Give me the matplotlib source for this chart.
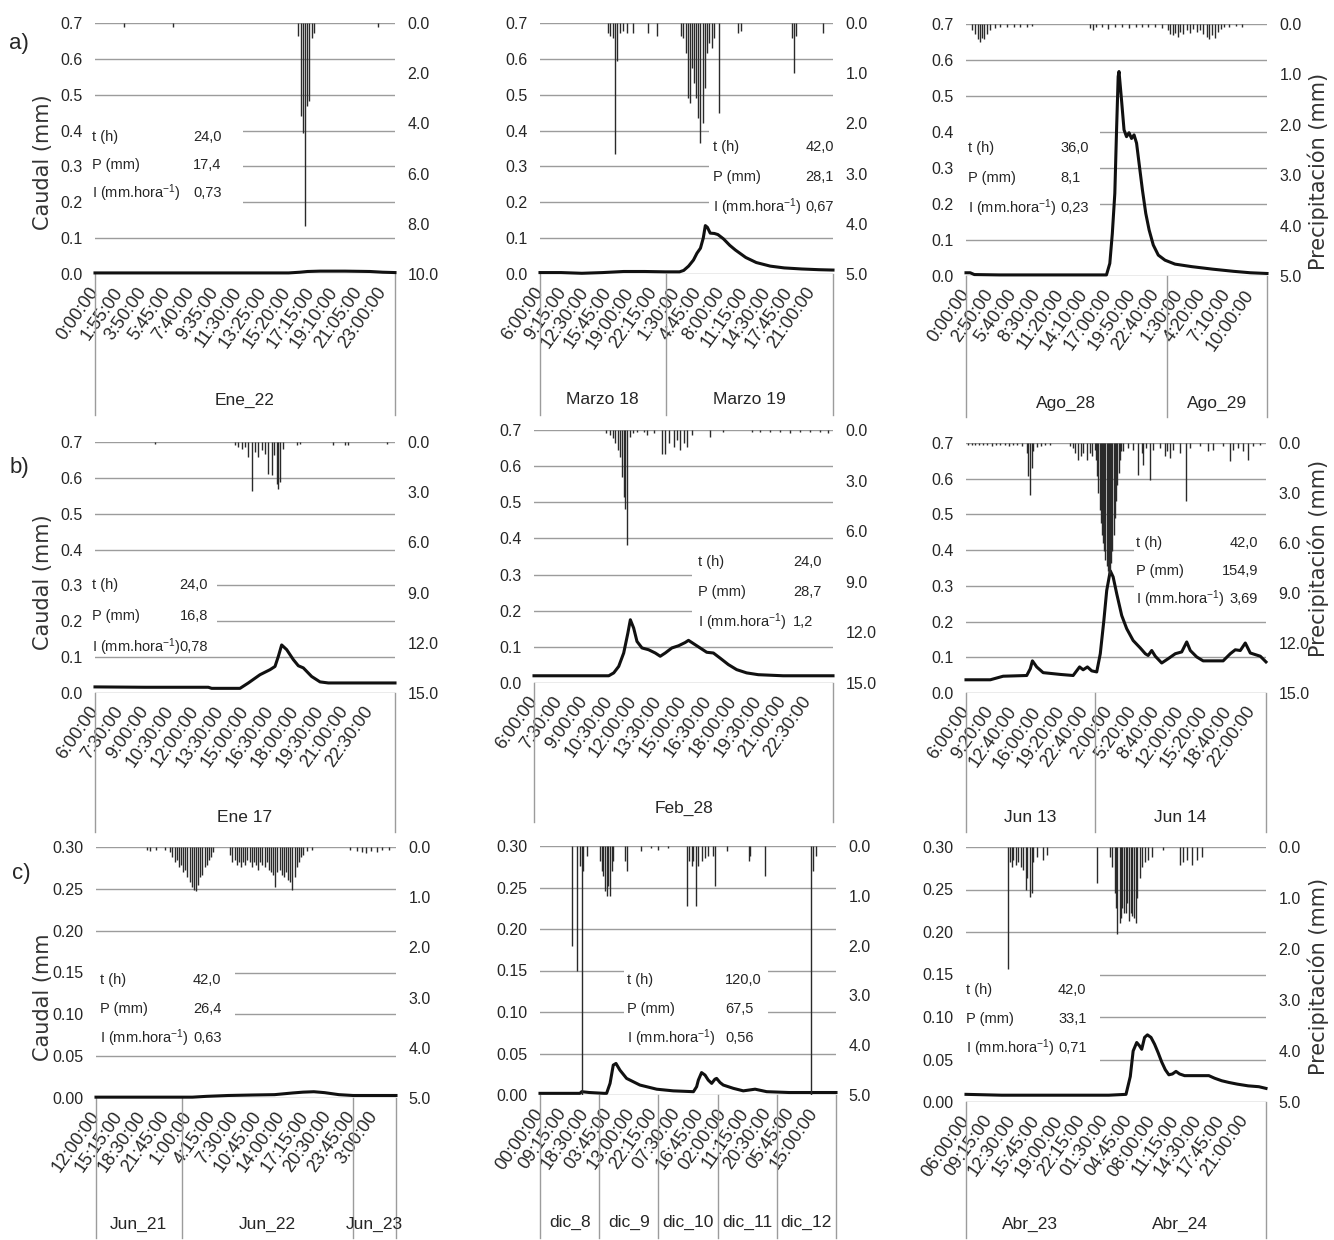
import numpy as np
import matplotlib
matplotlib.use("Agg")
import matplotlib.pyplot as plt
import matplotlib.transforms as mtransforms
from matplotlib.patches import Rectangle

plt.rcParams['font.family'] = ['Liberation Sans Narrow', 'Liberation Sans', 'DejaVu Sans']
plt.rcParams['mathtext.default'] = 'regular'

# ---------------------------------------------------------------- data
# time axis in hours from the first label of each event

# a) Ene_22
FLOW_A1_T = [0, 2, 4, 6, 8, 10, 12, 14, 15.5, 16.4, 17.0, 18, 20, 22, 23, 24]
FLOW_A1_Q = [0.003, 0.003, 0.003, 0.003, 0.003, 0.003, 0.003, 0.003, 0.003, 0.005,
             0.007, 0.008, 0.008, 0.007, 0.005, 0.004]
RAIN_A1_T = [2.3, 6.2, 16.25, 16.45, 16.6, 16.8, 16.95, 17.15, 17.35, 17.55, 22.6]
RAIN_A1_P = [0.15, 0.15, 0.5, 3.7, 4.4, 8.1, 3.3, 3.1, 0.6, 0.4, 0.15]
TICKS_A1 = ["0:00:00", "1:55:00", "3:50:00", "5:45:00", "7:40:00", "9:35:00", "11:30:00",
            "13:25:00", "15:20:00", "17:15:00", "19:10:00", "21:05:00", "23:00:00"]
DAYS_A1 = ["Ene_22"]
DAY_EDGES_A1 = [0, 24]
STATS_A1 = ["24,0", "17,4", "0,73"]

# a) Marzo 18-19
FLOW_A2_T = [0, 3, 6, 9, 12, 15, 18, 20, 20.6, 21.3, 22.0, 22.5, 23.0, 23.4, 23.7, 24.0,
             24.4, 25.0, 25.5, 26.3, 27.2, 28.0, 29.5, 31.0, 33.0, 35.0, 37.5, 40.0, 42.0]
FLOW_A2_Q = [0.004, 0.004, 0.002, 0.004, 0.007, 0.007, 0.006, 0.006, 0.010, 0.022, 0.039,
             0.058, 0.072, 0.100, 0.135, 0.130, 0.114, 0.113, 0.110, 0.098, 0.080, 0.067,
             0.046, 0.032, 0.022, 0.017, 0.014, 0.012, 0.011]
RAIN_A2_T = [9.8, 10.1, 10.5, 10.8, 11.1, 11.5, 11.9, 12.4, 13.3, 15.5, 16.7, 20.2, 20.5,
             20.9, 21.2, 21.5, 21.8, 22.1, 22.4, 22.7, 23.0, 23.3, 23.6, 23.9, 24.2, 24.6,
             25.0, 25.7, 28.4, 28.8, 36.1, 36.4, 36.7, 40.6]
RAIN_A2_P = [0.2, 0.25, 0.3, 2.6, 0.75, 0.2, 0.15, 0.2, 0.2, 0.2, 0.25, 0.25, 0.3, 0.6, 1.5,
             1.6, 0.9, 1.2, 1.5, 1.9, 2.4, 2.0, 1.3, 0.6, 0.4, 0.5, 0.3, 1.8, 0.2, 0.15, 0.3,
             1.0, 0.25, 0.2]
TICKS_A2 = ["6:00:00", "9:15:00", "12:30:00", "15:45:00", "19:00:00", "22:15:00", "1:30:00",
            "4:45:00", "8:00:00", "11:15:00", "14:30:00", "17:45:00", "21:00:00"]
DAYS_A2 = ["Marzo 18", "Marzo 19"]
DAY_EDGES_A2 = [0, 18, 42]
STATS_A2 = ["42,0", "28,1", "0,67"]

# a) Ago_28-29
FLOW_A3_T = [0, 0.5, 1.0, 4, 8, 12, 16.8, 17.2, 17.5, 17.8, 18.0, 18.2, 18.3, 18.6, 18.9,
             19.2, 19.5, 19.8, 20.1, 20.4, 20.7, 21.1, 21.5, 21.9, 22.4, 23.0, 23.8, 25.0,
             27.0, 29.5, 32.0, 34.0, 36.0]
FLOW_A3_Q = [0.009, 0.009, 0.004, 0.003, 0.003, 0.003, 0.003, 0.035, 0.118, 0.230, 0.400,
             0.554, 0.568, 0.489, 0.406, 0.387, 0.398, 0.382, 0.392, 0.369, 0.313, 0.239,
             0.174, 0.128, 0.086, 0.058, 0.044, 0.033, 0.026, 0.019, 0.013, 0.009, 0.007]
RAIN_A3_T = [0.7, 1.1, 1.4, 1.7, 1.9, 2.2, 2.5, 2.9, 3.5, 4.1, 4.9, 5.7, 6.5, 7.3, 7.9,
             14.8, 15.2, 15.6, 16.3, 17.0, 17.8, 18.6, 19.5, 20.3, 21.0, 21.8, 22.6, 23.4,
             24.1, 24.4, 24.7, 25.0, 25.3, 25.6, 26.0, 26.4, 26.8, 27.2, 27.6, 28.0, 28.4,
             28.8, 29.1, 29.4, 29.8, 30.1, 30.5, 30.9, 31.5, 32.3, 33.0]
RAIN_A3_P = [0.12, 0.2, 0.3, 0.35, 0.28, 0.3, 0.2, 0.12, 0.08, 0.06, 0.05, 0.05, 0.05, 0.05,
             0.04, 0.08, 0.12, 0.06, 0.05, 0.1, 0.06, 0.05, 0.08, 0.05, 0.06, 0.05, 0.06,
             0.08, 0.12, 0.2, 0.22, 0.18, 0.25, 0.15, 0.2, 0.12, 0.18, 0.1, 0.15, 0.12, 0.2,
             0.25, 0.3, 0.22, 0.28, 0.15, 0.1, 0.06, 0.05, 0.04, 0.05]
TICKS_A3 = ["0:00:00", "2:50:00", "5:40:00", "8:30:00", "11:20:00", "14:10:00", "17:00:00",
            "19:50:00", "22:40:00", "1:30:00", "4:20:00", "7:10:00", "10:00:00"]
DAYS_A3 = ["Ago_28", "Ago_29"]
DAY_EDGES_A3 = [0, 24, 36]
STATS_A3 = ["36,0", "8,1", "0,23"]

# b) Ene 17
FLOW_B1_T = [0, 3, 6.8, 7.0, 8.7, 9.2, 9.9, 10.5, 10.8, 11.0, 11.2, 11.5, 11.9, 12.2, 12.5,
             13.0, 13.5, 14.0, 16.0, 18.0]
FLOW_B1_Q = [0.017, 0.016, 0.016, 0.013, 0.013, 0.028, 0.051, 0.065, 0.074, 0.102, 0.134,
             0.121, 0.093, 0.076, 0.070, 0.046, 0.031, 0.028, 0.028, 0.028]
RAIN_B1_T = [3.6, 8.4, 8.6, 8.8, 9.0, 9.2, 9.4, 9.6, 9.8, 10.0, 10.2, 10.4, 10.6, 10.75,
             10.9, 11.0, 11.1, 11.3, 12.1, 12.3, 14.3, 15.0, 15.2, 17.5]
RAIN_B1_P = [0.1, 0.2, 0.3, 0.4, 0.3, 0.9, 2.9, 0.6, 0.9, 0.5, 0.7, 1.9, 2.0, 0.8, 2.5, 2.8,
             2.4, 0.4, 0.15, 0.1, 0.15, 0.2, 0.15, 0.1]
TICKS_B1 = ["6:00:00", "7:30:00", "9:00:00", "10:30:00", "12:00:00", "13:30:00", "15:00:00",
            "16:30:00", "18:00:00", "19:30:00", "21:00:00", "22:30:00"]
DAYS_B1 = ["Ene 17"]
DAY_EDGES_B1 = [0, 18]
STATS_B1 = ["24,0", "16,8", "0,78"]

# b) Feb_28
FLOW_B2_T = [0, 4.5, 4.8, 5.1, 5.4, 5.65, 5.8, 6.0, 6.2, 6.5, 6.9, 7.3, 7.6, 7.9, 8.3, 8.7,
             9.1, 9.3, 9.6, 10.0, 10.4, 10.8, 11.2, 11.7, 12.2, 12.8, 13.5, 15.0, 18.0]
FLOW_B2_Q = [0.020, 0.020, 0.028, 0.046, 0.083, 0.138, 0.175, 0.152, 0.115, 0.097, 0.092,
             0.083, 0.074, 0.083, 0.097, 0.103, 0.112, 0.118, 0.109, 0.097, 0.085, 0.083,
             0.069, 0.051, 0.037, 0.028, 0.023, 0.020, 0.020]
RAIN_B2_T = [4.35, 4.55, 4.75, 4.9, 5.05, 5.2, 5.3, 5.4, 5.5, 5.62, 5.75, 5.95, 6.2, 6.6,
             6.8, 7.2, 7.7, 7.9, 8.1, 8.4, 8.6, 8.8, 9.0, 9.2, 9.5, 10.6, 11.4, 13.1, 13.6,
             14.2, 14.8, 15.4, 16.0, 16.6, 17.2, 17.7]
RAIN_B2_P = [0.15, 0.3, 0.5, 0.8, 1.2, 1.6, 2.8, 4.0, 4.7, 6.8, 0.4, 0.2, 0.1, 0.1, 0.3,
             0.2, 1.4, 1.4, 0.8, 1.0, 0.6, 1.2, 0.8, 1.0, 0.3, 0.4, 0.1, 0.1, 0.1, 0.1, 0.1,
             0.15, 0.1, 0.1, 0.1, 0.15]
TICKS_B2 = TICKS_B1
DAYS_B2 = ["Feb_28"]
DAY_EDGES_B2 = [0, 18]
STATS_B2 = ["24,0", "28,7", "1,2"]

# b) Jun 13-14
FLOW_B3_T = [0, 3.4, 5.2, 8.5, 9.0, 9.3, 9.9, 10.8, 13.2, 15.0, 15.9, 16.4, 17.0, 17.6,
             18.3, 18.8, 19.3, 19.7, 20.2, 20.6, 21.1, 21.8, 22.5, 23.4, 24.4, 25.1, 25.5,
             26.0, 26.5, 27.4, 28.3, 29.3, 30.2, 30.9, 31.4, 32.3, 33.2, 36.0, 37.0, 37.7,
             38.4, 39.1, 39.8, 41.2, 42.0]
FLOW_B3_Q = [0.037, 0.037, 0.047, 0.049, 0.068, 0.090, 0.073, 0.057, 0.052, 0.049, 0.073,
             0.065, 0.073, 0.062, 0.059, 0.110, 0.203, 0.287, 0.342, 0.325, 0.278, 0.217,
             0.180, 0.147, 0.126, 0.110, 0.105, 0.119, 0.103, 0.084, 0.096, 0.110, 0.115,
             0.143, 0.119, 0.101, 0.090, 0.090, 0.110, 0.121, 0.119, 0.140, 0.112, 0.103,
             0.087]
RAIN_B3_T = [0.3, 0.8, 1.3, 1.8, 2.4, 3.0, 3.6, 4.2, 4.8, 5.4, 6.0, 6.6, 7.2, 7.8, 8.5,
             8.7, 9.0, 9.2, 9.4, 9.9, 10.5, 11.1, 11.7, 14.5, 15.0, 15.3, 15.7, 16.1, 16.4,
             16.9, 17.4, 17.7, 18.05,
             18.2, 18.35, 18.5, 18.7, 18.85, 19.0, 19.2, 19.35, 19.5, 19.7, 19.85, 20.0,
             20.2, 20.35, 20.5, 20.7, 20.85, 21.0, 21.2, 21.35, 21.5, 21.7,
             22.0, 22.7, 23.4, 24.1, 24.6, 24.8, 25.2, 25.8, 26.2, 27.2, 27.9, 28.2, 28.6,
             29.0, 30.0, 30.8, 31.4, 32.8, 33.9, 34.6, 36.0, 37.0, 37.4, 38.1, 38.8, 39.5,
             40.2, 41.2]
RAIN_B3_P = [0.15, 0.1, 0.15, 0.1, 0.15, 0.1, 0.2, 0.15, 0.1, 0.15, 0.2, 0.1, 0.15, 0.2,
             0.6, 2.0, 3.1, 1.5, 0.5, 0.25, 0.2, 0.15, 0.1, 0.2, 0.3, 0.6, 1.0, 0.8, 0.6,
             1.0, 0.6, 0.8, 0.4,
             1.0, 2.0, 3.0, 4.0, 4.8, 5.5, 6.0, 6.5, 7.0, 7.4, 7.7, 7.9, 7.8, 7.2, 6.5,
             5.5, 4.5, 3.5, 2.5, 1.8, 1.0, 0.5,
             0.5, 0.3, 0.4, 1.9, 0.6, 1.3, 0.3, 2.2, 0.4, 0.3, 0.8, 0.5, 0.9, 0.4, 0.6,
             3.5, 0.3, 0.2, 0.5, 0.4, 0.2, 1.1, 0.4, 0.3, 0.5, 1.0, 0.2, 0.1]
TICKS_B3 = ["6:00:00", "9:20:00", "12:40:00", "16:00:00", "19:20:00", "22:40:00", "2:00:00",
            "5:20:00", "8:40:00", "12:00:00", "15:20:00", "18:40:00", "22:00:00"]
DAYS_B3 = ["Jun 13", "Jun 14"]
DAY_EDGES_B3 = [0, 18, 42]
STATS_B3 = ["42,0", "154,9", "3,69"]

# c) Jun_21-23
FLOW_C1_T = [0, 5, 10, 13.5, 15.5, 18.5, 22, 25, 27.5, 29, 30.5, 32, 34, 36, 42]
FLOW_C1_Q = [0.001, 0.001, 0.001, 0.001, 0.002, 0.003, 0.0036, 0.004, 0.006, 0.007,
             0.0075, 0.0064, 0.004, 0.003, 0.003]
RAIN_C1_T = [7.2, 7.6, 8.4, 9.6, 10.4, 10.7, 11.0, 11.3, 11.6, 11.9, 12.2, 12.5, 12.8,
             13.1, 13.4, 13.7, 14.0, 14.3, 14.6, 14.9, 15.2, 15.5, 15.8, 16.1, 16.4, 18.8,
             19.1, 19.4, 19.7, 20.0, 20.3, 20.6, 20.9, 21.2, 21.5, 21.8, 22.1, 22.4, 22.7,
             23.0, 23.3, 23.6, 23.9, 24.2, 24.5, 24.8, 25.1, 25.4, 25.7, 26.0, 26.3, 26.6,
             26.9, 27.2, 27.5, 27.8, 28.1, 28.4, 28.7, 29.0, 29.5, 30.2, 35.5, 36.5, 37.2,
             37.8, 38.5, 39.3, 40.0, 41.0]
RAIN_C1_P = [0.05, 0.08, 0.05, 0.05, 0.1, 0.2, 0.3, 0.25, 0.4, 0.35, 0.5, 0.45, 0.6, 0.7,
             0.8, 0.85, 0.88, 0.75, 0.6, 0.55, 0.4, 0.35, 0.25, 0.2, 0.1, 0.15, 0.3, 0.25,
             0.35, 0.3, 0.4, 0.3, 0.35, 0.25, 0.3, 0.4, 0.3, 0.35, 0.45, 0.3, 0.35, 0.4, 0.3,
             0.45, 0.5, 0.55, 0.8, 0.5, 0.45, 0.55, 0.6, 0.5, 0.65, 0.7, 0.85, 0.6, 0.4,
             0.3, 0.2, 0.15, 0.08, 0.05, 0.05, 0.08, 0.1, 0.12, 0.08, 0.1, 0.06, 0.05]
TICKS_C1 = ["12:00:00", "15:15:00", "18:30:00", "21:45:00", "1:00:00", "4:15:00", "7:30:00",
            "10:45:00", "14:00:00", "17:15:00", "20:30:00", "23:45:00", "3:00:00"]
DAYS_C1 = ["Jun_21", "Jun_22", "Jun_23"]
DAY_EDGES_C1 = [0, 12, 36, 42]
STATS_C1 = ["42,0", "26,4", "0,63"]

# c) dic_8-12
FLOW_C2_T = [0, 8, 16.2, 16.9, 20, 26, 27, 28.4, 29.7, 30.8, 32.4, 35.1, 40.5, 47.3, 54,
             62.2, 63.5, 64.2, 65.5, 66.9, 68.2, 69.6, 70.9, 71.6, 73, 74.3, 78.4, 82.4,
             87.2, 91.9, 101, 120]
FLOW_C2_Q = [0.002, 0.002, 0.002, 0.004, 0.003, 0.002, 0.002, 0.014, 0.036, 0.038, 0.030,
             0.020, 0.012, 0.007, 0.005, 0.004, 0.010, 0.018, 0.027, 0.024, 0.018, 0.014,
             0.019, 0.020, 0.015, 0.012, 0.008, 0.005, 0.007, 0.004, 0.003, 0.003]
RAIN_C2_T = [12.8, 14.9, 16.2, 16.9, 17.6, 18.9, 24.3, 25.0, 25.7, 26.4, 27.0, 27.7, 28.4,
             29.0, 29.7, 34.5, 35.1, 41, 45, 48, 52, 59.7, 60.5, 61.5, 62.2, 63.2, 64.2,
             65.5, 66.9, 68.2, 70.3, 70.9, 75.7, 84.6, 85.3, 91.2, 109.7, 110.8, 112]
RAIN_C2_P = [2.0, 2.5, 0.4, 5.0, 0.5, 0.2, 0.3, 0.5, 0.6, 0.9, 1.0, 0.8, 1.0, 0.5, 0.3, 0.3,
             0.5, 0.1, 0.05, 0.08, 0.05, 1.2, 0.3, 0.4, 0.3, 1.2, 0.4, 0.3, 0.25, 0.2, 0.2,
             0.8, 0.1, 0.3, 0.2, 0.6, 5.0, 0.5, 0.2]
TICKS_C2 = ["00:00:00", "09:15:00", "18:30:00", "03:45:00", "13:00:00", "22:15:00",
            "07:30:00", "16:45:00", "02:00:00", "11:15:00", "20:30:00", "05:45:00", "15:00:00"]
DAYS_C2 = ["dic_8", "dic_9", "dic_10", "dic_11", "dic_12"]
DAY_EDGES_C2 = [0, 24, 48, 72, 96, 120]
STATS_C2 = ["120,0", "67,5", "0,56"]

# c) Abr_23-24
FLOW_C3_T = [0, 5, 10, 15, 20, 22.4, 23.0, 23.4, 23.9, 24.3, 24.6, 25.0, 25.4, 25.9, 26.4,
             26.9, 27.4, 27.9, 28.4, 28.9, 29.4, 29.9, 30.6, 32, 34.0, 34.8, 35.8, 36.8,
             38.0, 39.5, 41, 42]
FLOW_C3_Q = [0.009, 0.008, 0.008, 0.008, 0.008, 0.009, 0.030, 0.060, 0.070, 0.066, 0.062,
             0.076, 0.079, 0.076, 0.068, 0.058, 0.047, 0.038, 0.032, 0.033, 0.036, 0.033,
             0.031, 0.031, 0.031, 0.028, 0.025, 0.023, 0.021, 0.019, 0.018, 0.016]
RAIN_C3_T = [5.9, 6.2, 6.4, 6.6, 7.0, 7.3, 7.7, 8.0, 8.35, 8.6, 8.9, 9.2, 9.4, 9.9, 10.8,
             11.3, 18.4, 20.2, 20.5, 20.8, 21.0, 21.2, 21.5, 21.7, 21.9, 22.1, 22.4, 22.6,
             22.8, 23.1, 23.3, 23.5, 23.8, 24.0, 24.3, 24.6, 25.1, 25.5, 26.0, 27.6, 30.0,
             30.4, 30.9, 31.6, 32.3, 33.0]
RAIN_C3_P = [2.4, 0.3, 0.4, 0.25, 0.35, 0.3, 0.4, 0.45, 0.85, 0.6, 0.98, 0.9, 0.3, 0.2,
             0.25, 0.15, 0.7, 0.2, 0.4, 0.9, 1.2, 1.7, 1.5, 1.4, 1.2, 1.3, 1.3, 1.1, 1.45,
             1.3, 1.35, 1.4, 1.5, 1.0, 0.6, 0.4, 0.3, 0.25, 0.2, 0.05, 0.35, 0.3, 0.25, 0.35,
             0.25, 0.2]
TICKS_C3 = ["06:00:00", "09:15:00", "12:30:00", "15:45:00", "19:00:00", "22:15:00",
            "01:30:00", "04:45:00", "08:00:00", "11:15:00", "14:30:00", "17:45:00", "21:00:00"]
DAYS_C3 = ["Abr_23", "Abr_24"]
DAY_EDGES_C3 = [0, 18, 42]
STATS_C3 = ["42,0", "33,1", "0,71"]

STAT_LABELS = ["t (h)", "P (mm)", r"I (mm.hora$^{-1}$)"]

# ---------------------------------------------------------------- style
W, H = 1334, 1240
TEXT = "#262626"
GRID = "#9c9c9c"
LINE = "#111111"
RAIN = "#2a2a2a"
FS_XTICK = 13
FS_YTICK = 11.5
FS_STATS = 10.5
FS_DAYS = 12.5


def tick_hours(labels, start):
    """Clock labels -> hours elapsed since the first label."""
    out, day, prev = [], 0, None
    for lab in labels:
        h, m, _ = (int(v) for v in lab.split(":"))
        clock = h + m / 60.0
        if prev is not None and clock < prev:
            day += 1
        prev = clock
        out.append(day * 24 + clock - start)
    return out


# panel layout: pixel boxes and text placement
PANELS = [
    dict(box=(95, 23, 395, 274), flow=(FLOW_A1_T, FLOW_A1_Q), rain=(RAIN_A1_T, RAIN_A1_P),
         qmax=0.7, qstep=0.1, qfmt="%.1f", pmax=10, pstep=2, ticks=TICKS_A1, start=0,
         days=DAYS_A1, edges=DAY_EDGES_A1, inner=True, sep_bottom=415, day_y=400,
         stats=STATS_A1, spos=(92, 193, "left", 137, 28), sbox=(93, 123, 243, 212)),
    dict(box=(540, 23, 833, 274), flow=(FLOW_A2_T, FLOW_A2_Q), rain=(RAIN_A2_T, RAIN_A2_P),
         qmax=0.7, qstep=0.1, qfmt="%.1f", pmax=5, pstep=1, ticks=TICKS_A2, start=6,
         days=DAYS_A2, edges=DAY_EDGES_A2, inner=True, sep_bottom=415, day_y=400,
         stats=STATS_A2, spos=(713, 834, "right", 147, 30), sbox=(709, 124, 836, 220)),
    dict(box=(966, 24, 1267, 276), flow=(FLOW_A3_T, FLOW_A3_Q), rain=(RAIN_A3_T, RAIN_A3_P),
         qmax=0.7, qstep=0.1, qfmt="%.1f", pmax=5, pstep=1, ticks=TICKS_A3, start=0,
         days=DAYS_A3, edges=DAY_EDGES_A3, inner=True, sep_bottom=417, day_y=403,
         stats=STATS_A3, spos=(968, 1060, "left", 148, 30), sbox=(966, 126, 1100, 215)),
    dict(box=(95, 442, 395, 693), flow=(FLOW_B1_T, FLOW_B1_Q), rain=(RAIN_B1_T, RAIN_B1_P),
         qmax=0.7, qstep=0.1, qfmt="%.1f", pmax=15, pstep=3, ticks=TICKS_B1, start=6,
         days=DAYS_B1, edges=DAY_EDGES_B1, inner=True, sep_bottom=832, day_y=818,
         stats=STATS_B1, spos=(92, 208, "right", 585, 31), sbox=(93, 568, 217, 650)),
    dict(box=(534, 430, 833, 683), flow=(FLOW_B2_T, FLOW_B2_Q), rain=(RAIN_B2_T, RAIN_B2_P),
         qmax=0.7, qstep=0.1, qfmt="%.1f", pmax=15, pstep=3, ticks=TICKS_B2, start=6,
         days=DAYS_B2, edges=DAY_EDGES_B2, inner=True, sep_bottom=822, day_y=808,
         stats=STATS_B2, spos=(698, 793, "left", 562, 30), sbox=(692, 548, 835, 633)),
    dict(box=(966, 443, 1266, 693), flow=(FLOW_B3_T, FLOW_B3_Q), rain=(RAIN_B3_T, RAIN_B3_P),
         qmax=0.7, qstep=0.1, qfmt="%.1f", pmax=15, pstep=3, ticks=TICKS_B3, start=6,
         days=DAYS_B3, edges=DAY_EDGES_B3, inner=True, sep_bottom=832, day_y=818,
         stats=STATS_B3, spos=(1136, 1258, "right", 543, 28), sbox=(1134, 530, 1268, 610)),
    dict(box=(96, 847, 396, 1098), flow=(FLOW_C1_T, FLOW_C1_Q), rain=(RAIN_C1_T, RAIN_C1_P),
         qmax=0.30, qstep=0.05, qfmt="%.2f", pmax=5, pstep=1, ticks=TICKS_C1, start=12,
         days=DAYS_C1, edges=DAY_EDGES_C1, inner=True, sep_bottom=1238, day_y=1224,
         stats=STATS_C1, spos=(100, 193, "left", 980, 29), sbox=(96, 962, 235, 1050)),
    dict(box=(540, 846, 836, 1095), flow=(FLOW_C2_T, FLOW_C2_Q), rain=(RAIN_C2_T, RAIN_C2_P),
         qmax=0.30, qstep=0.05, qfmt="%.2f", pmax=5, pstep=1, ticks=TICKS_C2, start=0,
         days=DAYS_C2, edges=DAY_EDGES_C2, inner=True, sep_bottom=1238, day_y=1222,
         stats=STATS_C2, spos=(627, 725, "left", 980, 29), sbox=(624, 962, 768, 1050)),
    dict(box=(966, 847, 1266, 1102), flow=(FLOW_C3_T, FLOW_C3_Q), rain=(RAIN_C3_T, RAIN_C3_P),
         qmax=0.30, qstep=0.05, qfmt="%.2f", pmax=5, pstep=1, ticks=TICKS_C3, start=6,
         days=DAYS_C3, edges=DAY_EDGES_C3, inner=False, sep_bottom=1238, day_y=1224,
         stats=STATS_C3, spos=(966, 1058, "left", 990, 29), sbox=(964, 970, 1100, 1064)),
]

fig = plt.figure(figsize=(W / 100, H / 100), dpi=100)
fig.patch.set_facecolor("white")


def draw_panel(p):
    l, t, r, b = p["box"]
    ax = fig.add_axes([l / W, 1 - b / H, (r - l) / W, (b - t) / H])

    def fx(px):
        return (px - l) / (r - l)

    def fy(py):
        return (b - py) / (b - t)

    span = p["edges"][-1]
    ax.set_xlim(0, span)
    ax.set_ylim(0, p["qmax"])
    for s in ax.spines.values():
        s.set_visible(False)

    qticks = np.round(np.arange(0, p["qmax"] + 1e-9, p["qstep"]), 4)
    for v in qticks:
        ax.axhline(v, color=GRID, lw=1.0, zorder=0.5)
    ax.set_yticks(qticks)
    ax.set_yticklabels([p["qfmt"] % v for v in qticks])
    ax.tick_params(axis="y", length=0, pad=9, labelsize=FS_YTICK, labelcolor=TEXT)

    pos = tick_hours(p["ticks"], p["start"])
    ax.set_xticks(pos)
    ax.set_xticklabels(p["ticks"], rotation=55, ha="right", va="center",
                       rotation_mode="anchor")
    ax.tick_params(axis="x", length=0, pad=11, labelsize=FS_XTICK, labelcolor=TEXT)

    # white panel behind the event summary
    bl, bt, br, bb = p["sbox"]
    ax.add_patch(Rectangle((fx(bl), fy(bb)), fx(br) - fx(bl), fy(bt) - fy(bb),
                           transform=ax.transAxes, facecolor="white", edgecolor="none",
                           zorder=1, clip_on=False))

    # discharge
    ax.plot(p["flow"][0], p["flow"][1], color=LINE, lw=2.2, zorder=3, clip_on=False,
            solid_joinstyle="round")

    # day separators and day names under the time labels
    trans = mtransforms.blended_transform_factory(ax.transData, ax.transAxes)
    seps = p["edges"] if p["inner"] else [p["edges"][0], p["edges"][-1]]
    for xb in seps:
        ax.plot([xb, xb], [0, fy(p["sep_bottom"])], transform=trans, color=GRID, lw=1.0,
                clip_on=False)
    for name, x0, x1 in zip(p["days"], p["edges"][:-1], p["edges"][1:]):
        ax.text((x0 + x1) / 2, fy(p["day_y"]), name, transform=trans, ha="center",
                va="center", fontsize=FS_DAYS, color=TEXT)

    # event summary
    lx, vx, vha, y0, dy = p["spos"]
    for i, (lab, val) in enumerate(zip(STAT_LABELS, p["stats"])):
        yy = fy(y0 + i * dy)
        ax.text(fx(lx), yy, lab, transform=ax.transAxes, ha="left", va="center",
                fontsize=FS_STATS, color=TEXT, zorder=4)
        ax.text(fx(vx), yy, val, transform=ax.transAxes, ha=vha, va="center",
                fontsize=FS_STATS, color=TEXT, zorder=4)

    # rainfall hanging from the top on an inverted secondary axis
    ax2 = ax.twinx()
    ax2.set_ylim(p["pmax"], 0)
    for s in ax2.spines.values():
        s.set_visible(False)
    pticks = np.round(np.arange(0, p["pmax"] + 1e-9, p["pstep"]), 4)
    ax2.set_yticks(pticks)
    ax2.set_yticklabels(["%.1f" % v for v in pticks])
    ax2.tick_params(axis="y", length=0, pad=9, labelsize=FS_YTICK, labelcolor=TEXT)
    ax2.vlines(p["rain"][0], 0, p["rain"][1], colors=RAIN, lw=1.0)
    return ax


for p in PANELS:
    draw_panel(p)

# row letters and axis titles
for lab, (x, y) in zip(["a)", "b)", "c)"], [(19, 43), (19, 467), (21, 873)]):
    fig.text(x / W, 1 - y / H, lab, ha="center", va="center", fontsize=16, color=TEXT,
             family=["Liberation Sans", "DejaVu Sans"])

for lab, y in [("Caudal (mm)", 162), ("Caudal (mm)", 582), ("Caudal (mm", 997)]:
    fig.text(43 / W, 1 - y / H, lab, rotation=90, ha="center", va="center", fontsize=15,
             color="#333333", family=["DejaVu Sans"])

for y in [171, 558, 976]:
    fig.text(1318 / W, 1 - y / H, "Precipitación (mm)", rotation=90, ha="center",
             va="center", fontsize=15, color="#333333", family=["DejaVu Sans"])

fig.savefig("out.png", dpi=100, facecolor="white")
